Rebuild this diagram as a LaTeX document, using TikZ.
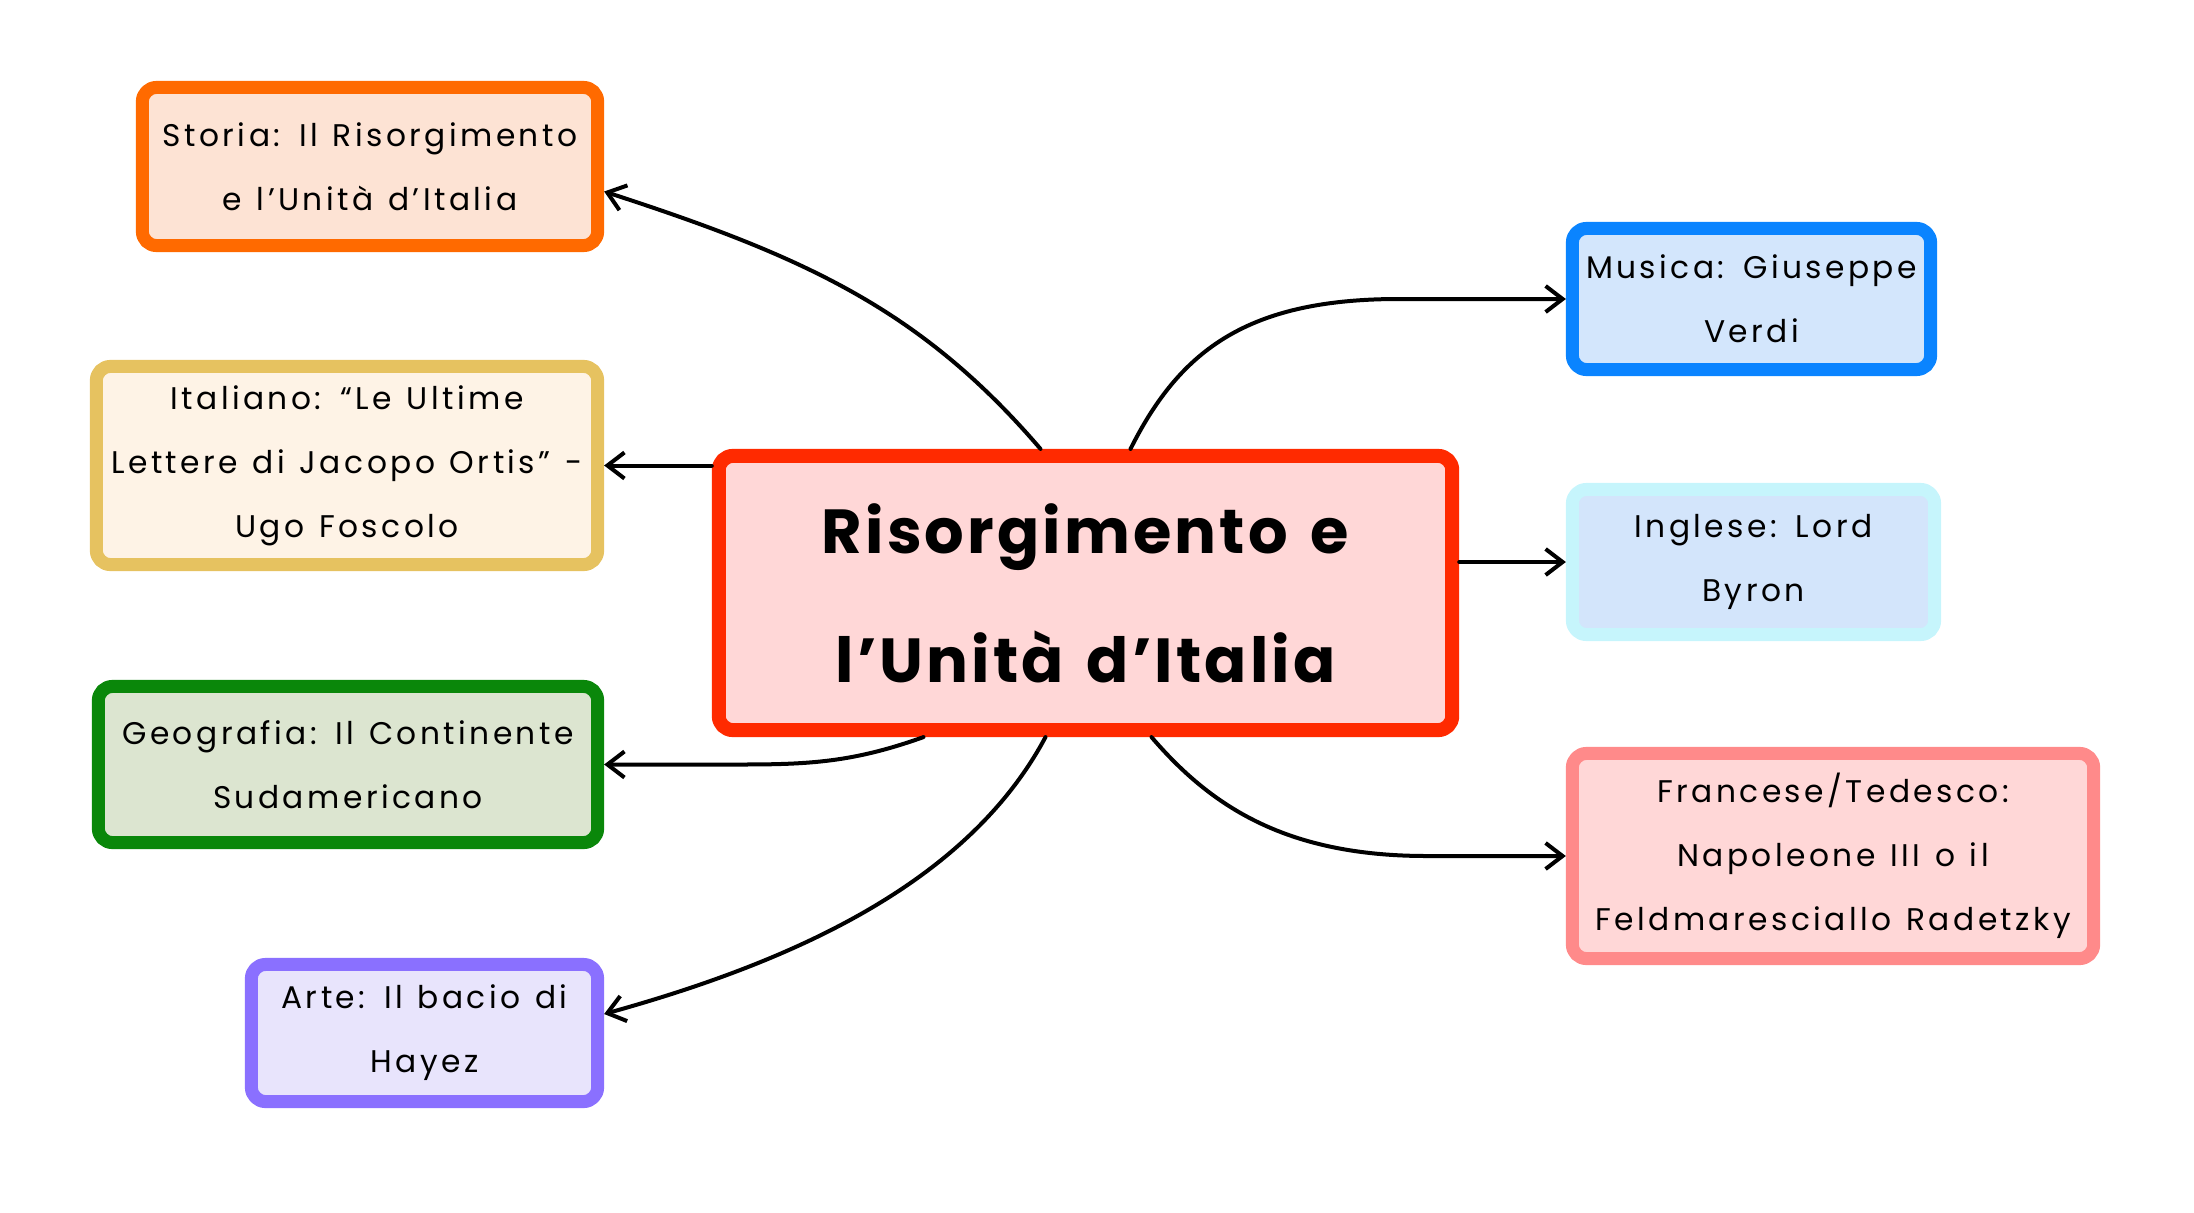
\documentclass[tikz,border=0pt]{standalone}
\usepackage{fontspec}
\setmainfont{Poppins}
\newfontfamily\trackfont[LetterSpace=11,WordSpace=1.25]{Poppins}
\newfontfamily\titlefont[LetterSpace=5,WordSpace=1.4]{Poppins}
\usetikzlibrary{arrows.meta,calc}

\definecolor{coreline}{HTML}{FF2A00}
\definecolor{corefill}{HTML}{FFD7D7}
\definecolor{storialine}{HTML}{FF6A00}
\definecolor{storiafill}{HTML}{FDE3D4}
\definecolor{italline}{HTML}{E6C260}
\definecolor{italfill}{HTML}{FEF3E6}
\definecolor{geoline}{HTML}{0A870A}
\definecolor{geofill}{HTML}{DCE5D0}
\definecolor{arteline}{HTML}{8A70FF}
\definecolor{artefill}{HTML}{E8E4FC}
\definecolor{musline}{HTML}{0A84FF}
\definecolor{musfill}{HTML}{D3E6FC}
\definecolor{ingline}{HTML}{C6F5FC}
\definecolor{ingfill}{HTML}{D3E5FB}
\definecolor{fraline}{HTML}{FF8A8A}
\definecolor{frafill}{HTML}{FFD7D7}

\begin{document}
\begin{tikzpicture}[
        x=0.01cm, y=-0.01cm,
        line cap=round,
        line join=round,
        topic/.style={rectangle, rounded corners=0.14cm, line width=0.13cm,
            align=center, inner sep=0pt,
            font=\trackfont\fontsize{8.9}{18.2}\selectfont},
        core/.style={rectangle, rounded corners=0.14cm, line width=0.14cm,
            align=center, inner sep=0pt, draw=coreline, fill=corefill,
            font=\titlefont\bfseries\fontsize{17.7}{36.7}\selectfont},
        link/.style={line width=0.04cm, -{Straight Barb[length=0.17cm,width=0.26cm]}}
    ]
        \useasboundingbox (0,0) rectangle (2194,1212);

        % centre
        \node[core, minimum width=7.33cm, minimum height=2.74cm] (core) at (1085.5,593)
            {Risorgimento e\\l’Unità d’Italia};

        % left side
        \node[topic, draw=storialine, fill=storiafill, minimum width=4.55cm, minimum height=1.58cm]
            (storia) at (370,166.5) {Storia: Il Risorgimento\\e l’Unità d’Italia};
        \node[topic, draw=italline, fill=italfill, minimum width=5.01cm, minimum height=1.98cm]
            (italiano) at (347,465.5) {Italiano: “Le Ultime\\Lettere di Jacopo Ortis” -\\Ugo Foscolo};
        \node[topic, draw=geoline, fill=geofill, minimum width=4.99cm, minimum height=1.56cm]
            (geografia) at (348,764.5) {Geografia: Il Continente\\Sudamericano};
        \node[topic, draw=arteline, fill=artefill, minimum width=3.46cm, minimum height=1.37cm]
            (arte) at (424.5,1033) {Arte: Il bacio di\\Hayez};

        % right side
        \node[topic, draw=musline, fill=musfill, minimum width=3.58cm, minimum height=1.41cm]
            (musica) at (1751.5,299) {Musica: Giuseppe\\Verdi};
        \node[topic, draw=ingline, fill=ingfill, minimum width=3.62cm, minimum height=1.45cm]
            (inglese) at (1753.5,562) {Inglese: Lord\\Byron};
        \node[topic, draw=fraline, fill=frafill, minimum width=5.21cm, minimum height=2.05cm]
            (francese) at (1833,856) {Francese/Tedesco:\\Napoleone III o il\\Feldmaresciallo Radetzky};

        % links
        \draw[link] ($(core.north)+(-45,0)$) .. controls +(-120,-140) and +(200,65) .. ($(storia.east)+(0,25)$);
        \draw[link] (core.west |- italiano.east) -- (italiano.east);
        \draw[link] ($(core.south)+(-162,0)$) .. controls +(-70,25) and +(70,0) .. ($(geografia.east)+(136,0)$) -- (geografia.east);
        \draw[link] ($(core.south)+(-40,0)$) .. controls +(-80,150) and +(180,-50) .. ($(arte.east)+(0,-19)$);
        \draw[link] ($(core.north)+(45,0)$) .. controls +(50,-100) and +(-150,0) .. ($(musica.west)+(-167,0)$) -- (musica.west);
        \draw[link] (core.east |- inglese.west) -- (inglese.west);
        \draw[link] ($(core.south)+(66,0)$) .. controls +(60,70) and +(-140,0) .. ($(francese.west)+(-139,0)$) -- (francese.west);
    \end{tikzpicture}
\end{document}
